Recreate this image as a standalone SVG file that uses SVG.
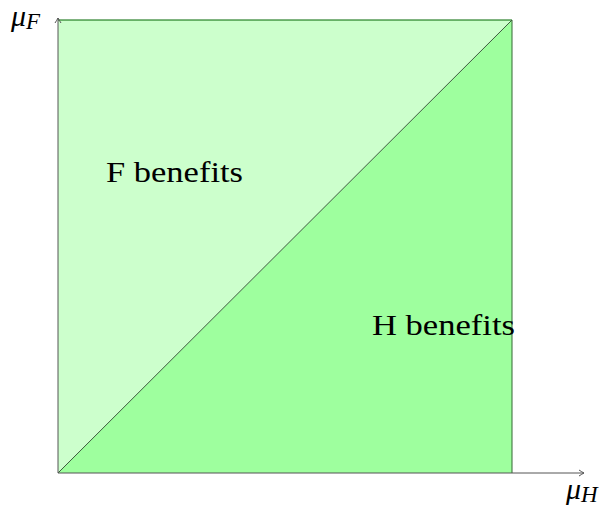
<svg xmlns="http://www.w3.org/2000/svg" width="605" height="513" viewBox="0 0 605 513">
<style>
.lbl{font-family:"Liberation Serif","DejaVu Serif",serif;font-size:30px;fill:#000}
.it{font-style:italic}
.ax{stroke:#555;stroke-width:1;fill:none}
</style>
<defs>
<marker id="arr" markerWidth="8" markerHeight="8" refX="6" refY="4" orient="auto" markerUnits="userSpaceOnUse">
<path d="M1,1 Q4,3 6,4 Q4,5 1,7" fill="none" stroke="#555" stroke-width="1"/>
</marker>
</defs>
<g id="region-F">
<polygon points="58,20 512,20 58,473" fill="#ccffcc"/>
</g>
<g id="region-H">
<polygon points="512,20 512,473 58,473" fill="#9eff9e"/>
</g>
<g id="connectors">
<line x1="58" y1="20" x2="512" y2="20" stroke="#006600" stroke-width="1"/>
<line x1="512" y1="20" x2="512" y2="473" stroke="#336633" stroke-width="1"/>
<line x1="58" y1="473" x2="512" y2="20" stroke="#3d5a3d" stroke-width="1"/>
<line class="ax" x1="58" y1="473" x2="58" y2="18" marker-end="url(#arr)"/>
<line class="ax" x1="58" y1="473" x2="584" y2="473" marker-end="url(#arr)"/>
</g>
<g id="labels">
<text class="lbl" x="106" y="182" textLength="137" lengthAdjust="spacingAndGlyphs">F benefits</text>
<text class="lbl" x="372" y="335" textLength="143" lengthAdjust="spacingAndGlyphs">H benefits</text>
<text class="lbl it" x="11" y="26" font-size="32">μ<tspan font-size="23" dy="3">F</tspan></text>
<text class="lbl it" x="566" y="499" font-size="32">μ<tspan font-size="23" dy="3">H</tspan></text>
</g>
</svg>
